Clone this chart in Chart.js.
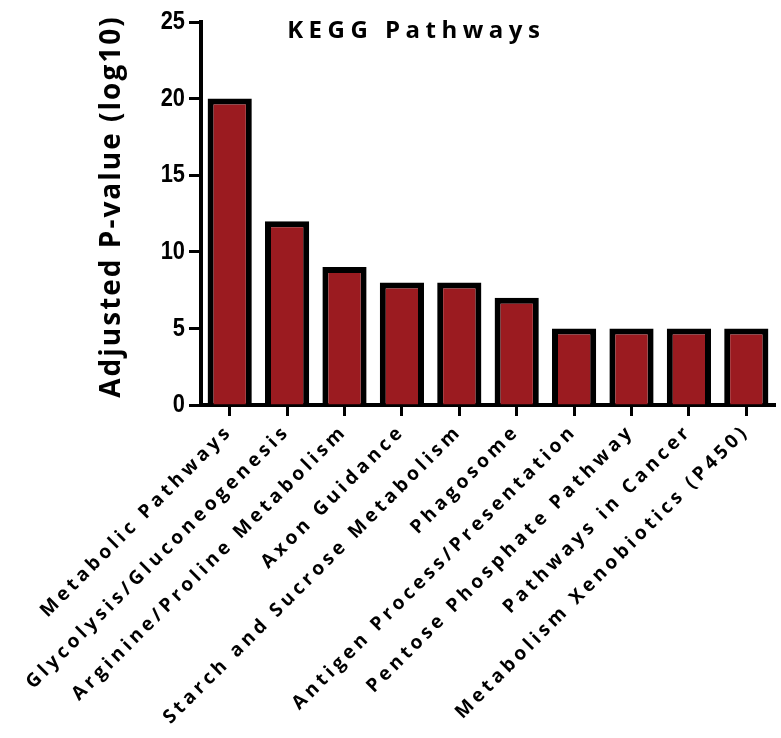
<!DOCTYPE html>
<html>
<head>
<meta charset="utf-8">
<script src="https://cdn.jsdelivr.net/npm/chart.js@4.4.0/dist/chart.umd.min.js"></script>
<style>
  html, body { margin: 0; padding: 0; background: #fff; }
  #wrap { width: 781px; height: 738px; }
</style>
</head>
<body>
<div id="wrap"><canvas id="chart"></canvas></div>
<script>
const pathways = [
    'Metabolic Pathways',
    'Glycolysis/Gluconeogenesis',
    'Arginine/Proline Metabolism',
    'Axon Guidance',
    'Starch and Sucrose Metabolism',
    'Phagosome',
    'Antigen Process/Presentation',
    'Pentose Phosphate Pathway',
    'Pathways in Cancer',
    'Metabolism Xenobiotics (P450)'
];
const pValues = [20, 12, 9, 8, 8, 7, 5, 5, 5, 5];
const yMin = 0;
const yMax = 25;
const yStep = 5;

const chartTitle = 'KEGG Pathways';
const yTitle = 'Adjusted P-value (log10)';

const labelFont = '"Open Sans"';
const tickFont = '"Liberation Sans"';

// canvas letterSpacing isn't a Chart.js font option, so wrap the draw calls
function wrapDraw(scale, method, prep) {
    const flag = '_wrapped_' + method;
    if (scale[flag]) return;
    const orig = scale[method];
    scale[method] = function (...args) {
        const ctx = this.ctx;
        ctx.save();
        prep(ctx, this);
        orig.apply(this, args);
        ctx.restore();
    };
    scale[flag] = true;
}

const textPlugin = {
    id: 'textTweaks',
    beforeDraw(chart) {
        wrapDraw(chart.scales.x, 'drawLabels', (ctx) => {
            ctx.letterSpacing = '4px';
        });
        wrapDraw(chart.scales.y, 'drawTitle', (ctx) => {
            ctx.letterSpacing = '2px';
            ctx.translate(0, -7);
        });
        // narrow the tick digits, anchored on their right edge
        wrapDraw(chart.scales.y, 'drawLabels', (ctx, scale) => {
            const x0 = scale.right - 16;
            ctx.translate(x0, 0);
            ctx.scale(0.84, 1);
            ctx.translate(-x0, 0);
        });
    }
};

const titlePlugin = {
    id: 'keggTitle',
    afterDraw(chart) {
        const { ctx, chartArea } = chart;
        ctx.save();
        ctx.letterSpacing = '5.5px';
        ctx.font = 'bold 24px ' + labelFont;
        ctx.fillStyle = '#000';
        ctx.textAlign = 'center';
        ctx.textBaseline = 'middle';
        ctx.fillText(chartTitle, chartArea.left + (chartArea.right - chartArea.left) * 0.375, 31);
        ctx.restore();
    }
};

function draw() {
    const ctx = document.getElementById('chart').getContext('2d');
    new Chart(ctx, {
        type: 'bar',
        data: {
            labels: pathways,
            datasets: [{
                data: pValues,
                backgroundColor: '#9B1B20',
                borderColor: '#000',
                borderWidth: 6,
                barPercentage: 0.77,
                categoryPercentage: 1
            }]
        },
        options: {
            responsive: true,
            maintainAspectRatio: false,
            devicePixelRatio: 1,
            animation: false,
            layout: { padding: { top: 22, right: 6, bottom: 0, left: 0 } },
            plugins: {
                legend: { display: false },
                tooltip: { enabled: false }
            },
            scales: {
                x: {
                    grid: {
                        display: true,
                        drawOnChartArea: false,
                        offset: false,
                        tickLength: 11,
                        tickWidth: 3,
                        tickColor: '#000'
                    },
                    border: { display: true, width: 4, color: '#000' },
                    ticks: {
                        color: '#000',
                        font: { family: labelFont, weight: 'bold', size: 19 },
                        maxRotation: 45,
                        minRotation: 45,
                        autoSkip: false,
                        padding: 4
                    },
                    afterFit(scale) {
                        scale.height = 333;
                        scale.paddingLeft = 0;
                        scale.paddingRight = 0;
                    }
                },
                y: {
                    min: yMin,
                    max: yMax,
                    grid: {
                        display: true,
                        drawOnChartArea: false,
                        tickLength: 12,
                        tickWidth: 3,
                        tickColor: '#000'
                    },
                    border: { display: true, width: 4, color: '#000' },
                    ticks: {
                        stepSize: yStep,
                        color: '#000',
                        font: { family: tickFont, weight: 'bold', size: 26 },
                        padding: 4
                    },
                    title: {
                        display: true,
                        text: yTitle,
                        color: '#000',
                        font: { family: labelFont, weight: 'bold', size: 28 },
                        padding: { top: 95, bottom: 0 }
                    },
                    afterFit(scale) {
                        scale.width = 201;
                        scale.paddingTop = 0;
                        scale.paddingBottom = 0;
                    }
                }
            }
        },
        plugins: [textPlugin, titlePlugin]
    });
}

Promise.all([
    document.fonts.load('bold 20px "Open Sans"'),
    document.fonts.load('bold 26px "Liberation Sans"')
]).then(draw, draw);
</script>
</body>
</html>
